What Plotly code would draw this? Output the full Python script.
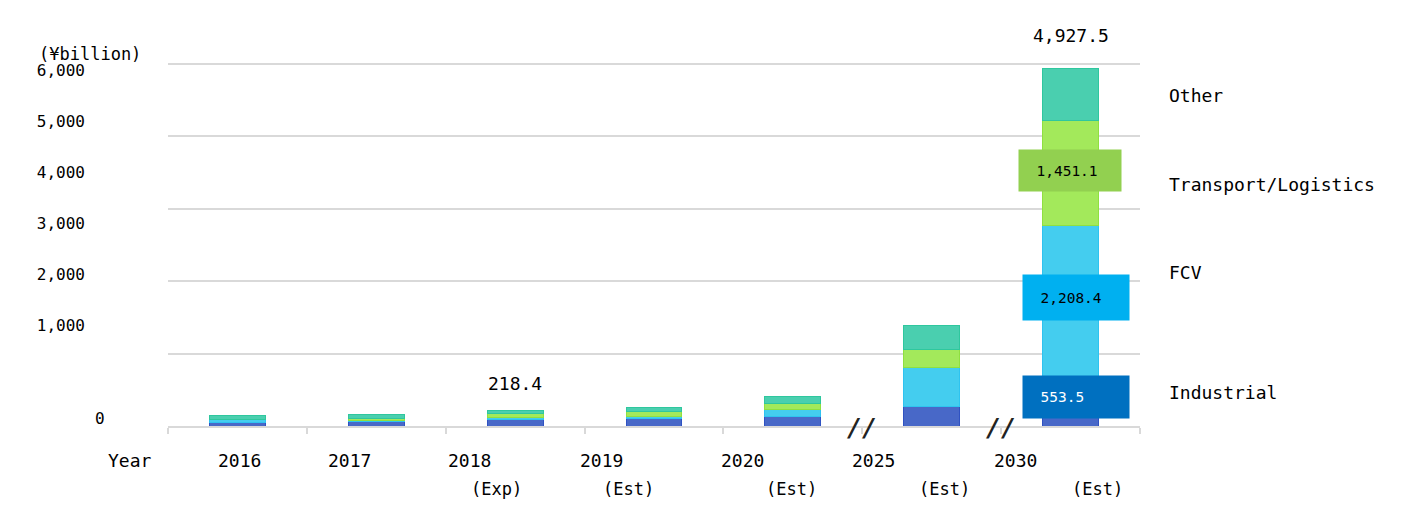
import plotly.graph_objects as go

# ---- data ----
categories = ["2016", "2017", "2018 (Exp)", "2019 (Est)", "2020 (Est)", "2025 (Est)", "2030 (Est)"]
year_labels = ["2016", "2017", "2018", "2019", "2020", "2025", "2030"]
suffix_labels = ["", "", "(Exp)", "(Est)", "(Est)", "(Est)", "(Est)"]
industrial = [50, 60, 95, 105, 125, 272, 553.5]
fcv = [35, 20, 25.4, 20, 105, 530, 2208.4]
transport = [10, 30, 50, 70, 85, 253, 1451.1]
other = [45, 50, 48, 67, 87, 336, 714.5]
totals_shown = {"2018 (Exp)": "218.4", "2030 (Est)": "4,927.5"}
ytick_vals = [1000, 2000, 3000, 4000, 5000, 6000]
ytick_text = ["1,000", "2,000", "3,000", "4,000", "5,000", "6,000"]
series_names = ["Industrial", "FCV", "Transport/Logistics", "Other"]

FONT = "DejaVu Sans Mono"

fills = ["#4868C8", "#44CDEF", "#A3E95B", "#4ACFAF"]
edges = ["#2F52C2", "#2EC3F0", "#8FE040", "#2FC79E"]

fig = go.Figure()
for name, vals, fc, ec in zip(series_names, [industrial, fcv, transport, other], fills, edges):
    fig.add_trace(go.Bar(x=categories, y=vals, name=name,
                         marker=dict(color=fc, line=dict(color=ec, width=1)),
                         hoverinfo="x+y+name"))

# invisible trace to activate the label axis
fig.add_trace(go.Scatter(x=[categories[0]], y=[1000], yaxis="y2", mode="markers",
                         marker=dict(opacity=0), showlegend=False, hoverinfo="skip"))

annotations = []
# x-axis labels (year + suffix)
year_shift = [2, -27, -46, -53, -50, -58, -55]
suf_shift = [0, 0, -19, -26, -1, 13, 27]
for i, (yl, sl) in enumerate(zip(year_labels, suffix_labels)):
    annotations.append(dict(x=i, y=0, xref="x", yref="paper", text=yl, showarrow=False,
                            xshift=year_shift[i], yshift=-47, font=dict(size=18, family=FONT, color="#000")))
    if sl:
        annotations.append(dict(x=i, y=0, xref="x", yref="paper", text=sl, showarrow=False,
                                xshift=suf_shift[i], yshift=-75, font=dict(size=17, family=FONT, color="#000")))
annotations.append(dict(x=0, y=0, xref="paper", yref="paper", text="Year", showarrow=False,
                        xanchor="center", xshift=-38, yshift=-47, font=dict(size=18, family=FONT, color="#000")))

# totals above bars
tot = [a + b + c + d for a, b, c, d in zip(industrial, fcv, transport, other)]
for i, (c, t) in enumerate(zip(categories, tot)):
    if c in totals_shown:
        annotations.append(dict(x=i, y=t, xref="x", yref="y", text=totals_shown[c], showarrow=False,
                                yanchor="bottom", yshift=14 if c != "2030 (Est)" else 21,
                                font=dict(size=18, family=FONT, color="#000")))

# value boxes on the 2030 bar
last = len(categories) - 1
box_specs = [
    (industrial[-1] * 0.73, industrial[-1], "#0070C0", "#FFFFFF", 106, 42, 5),
    (industrial[-1] + fcv[-1] * 0.55, fcv[-1], "#00B0F0", "#000000", 106, 45, 5),
    (industrial[-1] + fcv[-1] + transport[-1] * 0.53, transport[-1], "#92D050", "#000000", 102, 41, -1),
]
for yv, v, bg, fc, w, h, xs in box_specs:
    annotations.append(dict(x=last, y=yv, xref="x", yref="y", text="\u00a0\u00a0" + f"{v:,.1f}",
                            showarrow=False, bgcolor=bg, width=w, height=h, align="left",
                            borderpad=0, xshift=xs, font=dict(size=14.5, family=FONT, color=fc)))

# series labels on the right
right_y = [461, 2114, 3326, 4566]
for name, yv in zip(series_names, right_y):
    annotations.append(dict(x=1, y=yv, xref="paper", yref="y", text=name, showarrow=False,
                            xanchor="left", xshift=27, font=dict(size=18, family=FONT, color="#000")))

# axis breaks
for bx in [4.5, 5.5]:
    annotations.append(dict(x=bx, y=0, xref="x", yref="y", text="<b><i>//</i></b>", showarrow=False,
                            yshift=-1, font=dict(size=25, family=FONT, color="#222")))

# unit label and zero label
annotations.append(dict(x=0, y=1, xref="paper", yref="paper", text="(¥billion)", showarrow=False,
                        xanchor="left", yanchor="middle", xshift=-131, yshift=6,
                        font=dict(size=17, family=FONT, color="#000")))
annotations.append(dict(x=0, y=0, xref="paper", yref="paper", text="0", showarrow=False,
                        xanchor="center", xshift=-68, yshift=-4,
                        font=dict(size=16, family=FONT, color="#000")))

fig.update_layout(
    width=1387, height=505,
    margin=dict(l=160, r=255, t=51.9, b=86.5),
    barmode="stack", bargap=0.597,
    plot_bgcolor="white", paper_bgcolor="white",
    showlegend=False,
    font=dict(family=FONT, color="#000"),
    xaxis=dict(type="category", range=[-0.5, 6.5], showticklabels=False, showline=True,
               linecolor="#D9D9D9", linewidth=2,
               ticks="outside", tickson="boundaries", ticklen=6, tickcolor="#D9D9D9", tickwidth=2,
               showgrid=False),
    yaxis=dict(range=[0, 5050], tickvals=[1000, 2000, 3000, 4000, 5000], showgrid=True,
               gridcolor="#D9D9D9", gridwidth=2,
               showticklabels=False, zeroline=False, showline=False),
    yaxis2=dict(overlaying="y", side="left", range=[-968.3, 6211.5], tickvals=ytick_vals, ticktext=ytick_text,
                showgrid=False, zeroline=False, showline=False, ticks="",
                ticklabelstandoff=82, tickfont=dict(size=16, family=FONT, color="#000")),
    annotations=annotations,
)

fig.write_html("out.html")
